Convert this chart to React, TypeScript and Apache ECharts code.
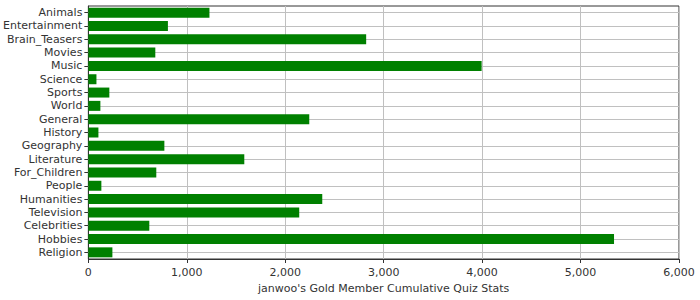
import React, { useEffect, useRef } from "react";
import * as echarts from "echarts";

const categories = [
  "Animals", "Entertainment", "Brain_Teasers", "Movies", "Music", "Science", "Sports", "World",
  "General", "History", "Geography", "Literature", "For_Children", "People", "Humanities",
  "Television", "Celebrities", "Hobbies", "Religion",
];
const values = [
  1230, 808, 2822, 680, 3995, 82, 213, 122, 2244, 102, 772, 1584, 690, 132, 2376, 2142, 619, 5340, 244,
];
const xTicks = [0, 1000, 2000, 3000, 4000, 5000, 6000];
const axisTitle = "janwoo's Gold Member Cumulative Quiz Stats";

export default function App() {
  const ref = useRef<HTMLDivElement>(null);
  useEffect(() => {
    if (!ref.current) return;
    const chart = echarts.init(ref.current, undefined, { renderer: "svg" });
    const font = "DejaVu Sans";
    chart.setOption({
      animation: false,
      textStyle: { fontFamily: font },
      grid: {
        left: 88, right: 21, top: 6, bottom: 41,
        show: true, borderColor: "#333", borderWidth: 1, backgroundColor: "#fff",
      },
      xAxis: {
        type: "value",
        min: xTicks[0],
        max: xTicks[xTicks.length - 1],
        interval: 1000,
        name: axisTitle,
        nameLocation: "middle",
        nameGap: 23,
        nameTextStyle: { fontFamily: font, fontSize: 11, color: "#333" },
        axisLine: { show: true, lineStyle: { color: "#333", width: 1 } },
        axisTick: { show: true, length: 4, lineStyle: { color: "#333" } },
        axisLabel: {
          fontFamily: font, fontSize: 11, color: "#333", margin: 8,
          formatter: (v: number) => v.toLocaleString("en-US"),
        },
        splitLine: { show: true, lineStyle: { color: "#c0c0c0", width: 1 } },
      },
      yAxis: {
        type: "category",
        data: categories,
        inverse: true,
        axisLine: { show: true, lineStyle: { color: "#333", width: 1 } },
        axisTick: { show: true, alignWithLabel: true, length: 4, lineStyle: { color: "#333" } },
        axisLabel: { fontFamily: font, fontSize: 11, color: "#333", margin: 6, interval: 0 },
        splitLine: { show: false },
      },
      series: [
        {
          type: "bar",
          data: values,
          barCategoryGap: "25%",
          itemStyle: { color: "#008000" },
          z: 3,
          markLine: {
            silent: true,
            symbol: "none",
            z: 1,
            label: { show: false },
            lineStyle: { color: "#c0c0c0", width: 1, type: "solid" },
            data: categories.map((c) => ({ yAxis: c })),
          },
        },
      ],
    });
    return () => chart.dispose();
  }, []);
  return (
    <div
      ref={ref}
      style={{ position: "absolute", left: 0, top: 0, width: 700, height: 300 }}
    />
  );
}
